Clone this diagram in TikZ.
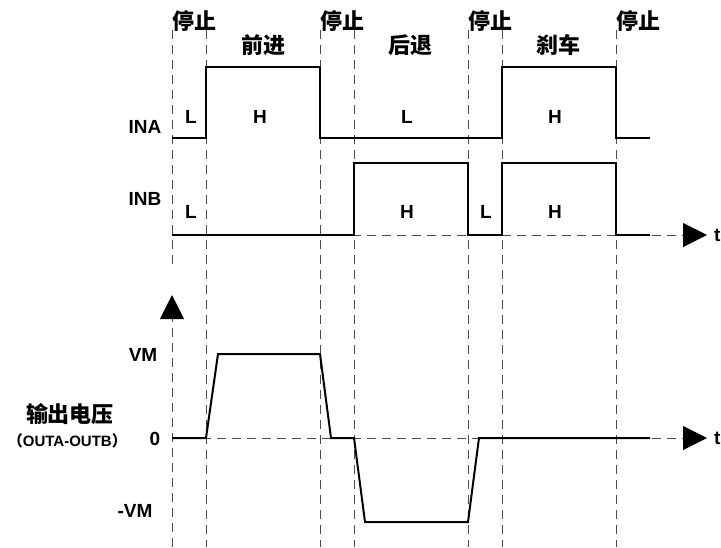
\documentclass[tikz,border=0pt]{standalone}
\usepackage{fontspec}
\setmainfont{Liberation Sans}
\newfontfamily\cjk{Noto Sans CJK SC}
\usetikzlibrary{arrows.meta}
\tikzset{
  wave/.style={line width=2pt, line join=miter},
  guide/.style={line width=1pt, dash pattern=on 9pt off 6pt, black!70},
  axis/.style={guide, -{Triangle[length=24pt, width=24pt, black]}},
  tag/.style={font=\bfseries\fontsize{19}{19}\selectfont, inner sep=0pt},
  small tag/.style={font=\bfseries\fontsize{15}{15}\selectfont, inner sep=0pt},
  ctag/.style={font=\cjk\bfseries\fontsize{22}{22}\selectfont, inner sep=0pt}
}

\begin{document}
\begin{tikzpicture}[x=1pt, y=-1pt]
\useasboundingbox (0,0) rectangle (721,547);
% Guides
\draw [guide] (172,30) -- (172,265);
\foreach \x in {206,320,354,468,502,616}
  \draw [guide] (\x,30) -- (\x,547);
% Axes
\draw [axis] (172,235) -- (707,235);
\draw [axis] (172,438) -- (707,438);
\draw [axis] (172,547) -- (172,295);
% Waveforms
\draw [wave] (172,138) -| (206,67) -| (320,138) -| (502,67) -| (616,138) -- (650,138);
\draw [wave] (172,235) -| (354,163) -| (468,235) -| (502,163) -| (616,235) -- (650,235);
\draw [wave] (172,438) -- (206,438) -- (218,354) -- (320,354) -- (331,438) -- (354,438)
  -- (365,522) -- (468,522) -- (479,438) -- (650,438);
% States
\foreach \x [count=\i] in {172,320,468,616}
  \node [ctag, anchor=west] (stop\i) at (\x,21) {停止};
\node [ctag] (fwd) at (263,45) {前进};
\node [ctag] (rev) at (410,45) {后退};
\node [ctag] (brake) at (558,45) {刹车};
% Levels
\node [tag] (inaL1) at (191,117) {L};
\node [tag] (inaH1) at (260,117) {H};
\node [tag] (inaL2) at (407,117) {L};
\node [tag] (inaH2) at (555,117) {H};
\node [tag] (inbL1) at (191,212) {L};
\node [tag] (inbH1) at (407,212) {H};
\node [tag] (inbL2) at (486,212) {L};
\node [tag] (inbH2) at (555,212) {H};
% Signal names
\node [tag] (ina) at (145,127) {INA};
\node [tag] (inb) at (145,199) {INB};
\node [tag, anchor=west] (t1) at (714,235) {t};
\node [tag, anchor=west] (t2) at (714,438) {t};
\node [tag] (vm) at (143,355) {VM};
\node [tag] (zero) at (155,439) {0};
\node [tag] (nvm) at (135,511) {-VM};
\node [ctag] (vout) at (70,414) {输出电压};
\node [small tag, anchor=east] (diff) at (127,441) {{\cjk （}OUTA-OUTB{\cjk ）}};
\end{tikzpicture}
\end{document}
